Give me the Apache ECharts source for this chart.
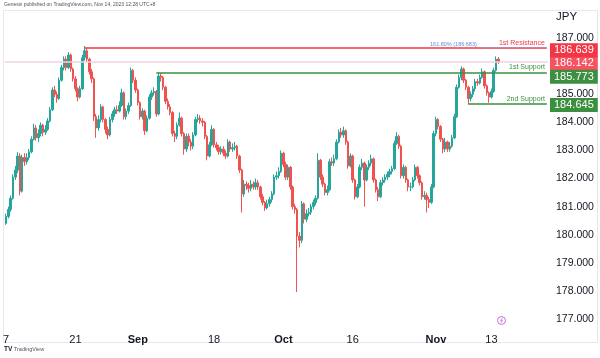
<!DOCTYPE html>
<html><head><meta charset="utf-8">
<script src="https://cdn.jsdelivr.net/npm/echarts@6/dist/echarts.min.js"></script>
<style>html,body{margin:0;padding:0;background:#fff}#c{width:600px;height:358px}</style>
</head><body><div id="c"></div>
<script>
// ---- data (GBP/JPY, 8-hour candles) ----
const firstOpen = 180.40;
const closes = [
180.65,180.90,181.30,182.05,182.30,182.80,181.55,182.75,182.60,182.75,
182.95,183.40,183.80,183.45,183.60,183.90,183.65,183.75,184.05,184.45,
185.15,185.00,184.85,185.50,185.95,186.25,185.95,186.40,185.90,185.55,
185.20,184.90,185.20,186.30,186.55,186.25,185.80,185.55,184.20,183.80,
184.10,184.55,184.10,183.75,183.55,184.10,184.30,184.45,184.40,184.60,
185.05,184.20,184.40,184.60,185.85,185.50,185.15,184.70,184.20,184.40,
183.70,184.15,184.90,185.05,185.10,184.30,185.65,185.60,185.25,184.75,
184.55,184.35,183.60,183.50,183.90,184.15,183.60,183.05,183.50,183.30,
183.15,183.55,184.10,184.15,184.05,184.00,183.50,182.80,183.20,183.75,
183.20,183.10,182.95,183.05,182.90,182.80,183.30,183.05,183.10,183.15,
182.80,182.30,181.45,181.80,181.75,181.65,181.80,181.70,181.85,181.70,
181.35,181.15,180.95,181.10,181.25,181.45,182.05,182.10,182.25,182.90,
182.50,182.05,182.40,181.70,181.00,180.90,179.95,179.80,181.10,180.55,
180.75,180.80,181.00,181.15,181.30,182.65,182.05,181.80,181.50,181.60,
182.60,182.55,182.70,183.30,183.65,183.55,183.70,183.30,182.45,182.80,
181.95,181.35,181.70,182.40,182.55,181.95,182.40,182.55,182.70,181.95,
181.60,181.35,181.85,181.95,182.05,182.15,182.25,182.35,183.25,183.50,
183.15,182.10,182.40,181.95,181.70,181.70,181.95,182.40,182.10,181.85,
181.35,181.40,181.25,181.15,181.70,183.60,184.10,183.85,183.40,183.05,
183.30,183.05,183.15,183.45,184.20,185.25,185.60,185.90,185.50,185.25,
184.85,185.00,185.20,185.45,185.40,185.60,185.80,185.30,185.05,184.90,
185.10,185.85,186.25,186.142];
const highs = [
180.75,181.00,181.40,182.15,182.45,182.95,182.90,182.85,182.90,182.90,
183.05,183.50,183.95,183.90,183.75,184.00,183.95,183.90,184.15,184.55,
185.25,185.30,185.10,185.60,186.05,186.35,186.35,186.50,186.45,185.95,
185.65,185.25,185.30,186.40,186.72,186.65,186.30,185.90,185.60,184.30,
184.25,184.65,184.60,184.15,183.85,184.20,184.40,184.55,184.60,184.75,
185.20,185.10,184.50,184.70,185.95,185.90,185.60,185.20,184.75,184.50,
184.45,184.25,185.00,185.15,185.25,185.15,185.773,185.75,185.65,185.30,
184.85,184.65,184.40,183.70,184.00,184.35,184.20,183.65,183.60,183.60,
183.40,183.65,184.20,184.30,184.25,184.15,184.05,183.55,183.30,183.90,
183.80,183.30,183.20,183.15,183.15,183.00,183.40,183.35,183.25,183.30,
183.20,182.85,182.35,181.95,181.90,181.85,181.95,181.90,182.00,181.95,
181.75,181.45,181.20,181.25,181.35,181.55,182.15,182.25,182.40,183.00,
182.95,182.60,182.50,182.45,181.75,181.10,180.95,180.10,181.20,181.15,
180.90,180.95,181.10,181.25,181.40,182.90,182.70,182.15,181.85,181.75,
182.70,182.75,182.85,183.40,183.75,183.80,183.85,183.75,183.35,182.90,
182.85,182.00,181.80,182.50,182.70,182.60,182.50,182.65,182.85,182.75,
182.00,181.70,181.95,182.05,182.15,182.25,182.35,182.45,183.35,183.65,
183.55,183.20,182.50,182.45,182.00,181.85,182.05,182.50,182.45,182.15,
181.90,181.55,181.50,181.35,181.80,183.70,184.20,184.15,183.90,183.45,
183.45,183.35,183.30,183.55,184.30,185.35,185.70,185.99,185.95,185.55,
185.30,185.10,185.30,185.55,185.55,185.70,185.92,185.85,185.35,185.10,
185.20,185.95,186.35,186.32];
const lows = [
180.35,180.58,180.82,181.25,181.95,182.20,181.40,181.50,182.45,182.50,
182.65,182.90,183.35,183.35,183.30,183.50,183.50,183.55,183.70,184.00,
184.40,184.90,184.70,184.80,185.45,185.85,185.85,185.90,185.80,185.45,
185.10,184.75,184.85,185.15,186.20,186.15,185.70,185.40,184.05,183.45,
183.70,184.00,184.00,183.60,183.40,183.50,184.00,184.20,184.30,184.35,
184.55,184.10,184.10,184.30,184.55,185.40,185.05,184.60,184.10,184.10,
183.55,183.65,184.10,184.80,184.95,184.20,184.25,185.45,185.15,184.65,
184.45,184.25,183.50,183.30,183.40,183.85,183.50,182.85,182.95,183.15,
183.00,183.05,183.50,184.00,183.95,183.85,183.40,182.65,182.75,183.15,
183.10,183.00,182.85,182.85,182.80,182.70,182.75,182.95,182.95,183.00,
182.70,182.20,180.79,181.35,181.60,181.50,181.55,181.60,181.60,181.60,
181.25,181.05,180.85,180.90,181.00,181.15,181.40,181.95,182.00,182.20,
182.40,181.95,181.95,181.60,180.90,180.75,177.96,179.55,179.70,180.40,
180.45,180.65,180.70,180.90,181.05,181.25,181.95,181.70,181.40,181.40,
181.55,182.45,182.45,182.65,183.25,183.45,183.45,183.20,182.35,182.40,
181.85,181.25,181.30,181.65,182.30,181.00,181.90,182.30,182.45,181.85,
181.50,181.20,181.30,181.75,181.85,181.95,182.05,182.15,182.30,183.20,
183.05,182.00,182.00,181.85,181.55,181.55,181.65,181.90,182.00,181.75,
181.25,181.25,180.79,180.95,181.10,181.65,183.50,183.75,183.30,182.90,
182.95,182.95,182.95,183.10,183.40,184.15,185.20,185.50,185.40,185.15,
184.645,184.75,184.90,185.10,185.30,185.35,185.55,185.20,184.95,184.70,
184.85,185.05,185.80,186.08];

// axis / time
const startDate = '2023-08-07';
const sessionSlots = ['00:00','08:00','16:00'];
const axisSlotCount = 235;
const tickDates = ['2023-08-07','2023-08-21','2023-09-01','2023-09-18','2023-10-02','2023-10-16','2023-11-01','2023-11-13'];
const tickTexts = ['7','21','Sep','18','Oct','16','Nov','13'];
const yTickHidden = [186, 188];

// levels
const levelNames = ['1st Resistance','1st Support','2nd Support'];
const levelValues = [186.639, 185.773, 184.645];
const levelStart = ['2023-08-22 08:00','2023-09-05 16:00','2023-11-07 16:00'];
const levelColors = ['#f23645','#3b8f3e','#3b8f3e'];
const lastPrice = 186.142;
const fibValue = 186.683;
const fibText = '161.80% (186.683)';
const fibStart = '2023-11-09 08:00';

// ---- build ----
const categories = [];
(function(){
  const p = startDate.split('-').map(Number);
  let t = Date.UTC(p[0], p[1]-1, p[2]);
  while (categories.length < axisSlotCount) {
    const d = new Date(t);
    const wd = d.getUTCDay();
    if (wd !== 0 && wd !== 6) {
      const ds = d.toISOString().slice(0,10);
      for (const s of sessionSlots) { if (categories.length < axisSlotCount) categories.push(ds + ' ' + s); }
    }
    t += 86400000;
  }
})();
const tickMap = {};
tickDates.forEach((d,i)=>{ tickMap[d + ' ' + sessionSlots[0]] = tickTexts[i]; });
const monthTicks = ['Sep','Oct','Nov','Jan','Feb','Mar','Apr','May','Jun','Jul','Aug','Dec'];
const candles = closes.map((c,i)=>[i ? closes[i-1] : firstOpen, c, lows[i], highs[i]]);
const lastCat = categories[categories.length-1];

const FONT = 'Liberation Sans, Arial, sans-serif';
const boxLabel = (text, bg, dy) => ({
  show:true, position:'end', distance:2, formatter:text, color:'#fff', backgroundColor:bg,
  padding:[1,4,1,4], fontSize:11, lineHeight:12, fontFamily:FONT, offset:[0,dy], opacity:1
});
const boxOffsets = [2, 4, 1];
const mlData = [];
mlData.push({yAxis:lastPrice, lineStyle:{color:'#f0d3e2', width:1.5, type:'solid'},
  label: boxLabel(lastPrice.toFixed(3), '#f7525f', 1)});
levelValues.forEach((v,k)=>{
  mlData.push([
    {coord:[levelStart[k], v], lineStyle:{color:levelColors[k], width:1.5, type:'solid'},
     label:{show:true, position:'insideEndTop', formatter:levelNames[k], color:levelColors[k], fontSize:7, distance:2, fontFamily:FONT}},
    {coord:[lastCat, v]}
  ]);
});
mlData.push([
  {coord:[fibStart, fibValue], lineStyle:{color:'#7fa7e6', width:1, type:'dotted'},
   label:{show:true, position:'start', formatter:fibText, color:'#5b8fd6', fontSize:5.5, distance:3, offset:[0,-3]}},
  {coord:[lastCat, fibValue]}
]);
levelValues.forEach((v,k)=>{
  mlData.push({yAxis:v, lineStyle:{color:'rgba(255,255,255,0)', width:0.1, type:'solid'},
    label: boxLabel(v.toFixed(3), k===0 ? '#f23645' : '#3b8f3e', boxOffsets[k])});
});

const chart = echarts.init(document.getElementById('c'), null, {renderer:'canvas'});
chart.setOption({
  animation:false,
  backgroundColor:'#ffffff',
  grid:{left:2, right:52, top:10, bottom:32},
  xAxis:{
    type:'category', data:categories, boundaryGap:true,
    axisLine:{show:false}, axisTick:{show:false}, splitLine:{show:false},
    axisLabel:{
      margin:8, fontSize:11, color:'#131722', fontFamily:FONT,
      interval:(idx, val)=> tickMap[val] !== undefined,
      formatter:(val)=>{ const t = tickMap[val]; if (t===undefined) return ''; return monthTicks.indexOf(t)>=0 ? '{b|'+t+'}' : t; },
      rich:{b:{fontWeight:'bold', fontSize:11, color:'#131722'}}
    }
  },
  yAxis:{
    type:'value', position:'right', min:176.75, max:188, interval:0.25, scale:true,
    splitLine:{show:false}, axisLine:{show:false}, axisTick:{show:false},
    axisLabel:{margin:8, fontSize:10.5, color:'#131722', fontFamily:FONT,
      formatter:(v)=>{ const r = Math.round(v); return (Math.abs(v-r)<1e-6 && yTickHidden.indexOf(r)<0) ? v.toFixed(3) : ''; }}
  },
  series:[{
    type:'candlestick', data:candles, barWidth:2, barMinWidth:2,
    itemStyle:{color:'#26a69a', color0:'#ef5350', borderColor:'#26a69a', borderColor0:'#ef5350', borderWidth:1},
    markLine:{silent:true, symbol:['none','none'], animation:false, data:mlData}
  }],
  graphic:[
    {type:'rect', shape:{x:3.5, y:10.5, width:594, height:332}, style:{fill:'none', stroke:'#e6e8ee', lineWidth:1}, silent:true, z:-1},
    {type:'text', left:4, top:2, style:{text:'Genesiv published on TradingView.com, Nov 14, 2023 12:28 UTC+8', fontSize:5, fill:'#50535e', fontFamily:FONT}},
    {type:'text', left:556, top:11, style:{text:'JPY', fontSize:11.5, fill:'#131722', fontFamily:FONT}},
    {type:'text', left:4, top:346, style:{text:'{t|TV} TradingView', rich:{t:{fontWeight:'bold', fontSize:6.5, fill:'#131722'}}, fontSize:5.5, fill:'#50535e', fontFamily:FONT}},
    {type:'group', left:495, top:314, children:[
      {type:'circle', shape:{cx:4.5, cy:4.5, r:4}, style:{fill:'none', stroke:'#c36fd8', lineWidth:1}},
      {type:'polyline', shape:{points:[[5.3,2],[3.5,4.8],[5.5,4.4],[3.8,7]]}, style:{fill:'none', stroke:'#c36fd8', lineWidth:0.8}}
    ]}
  ]
});
</script></body></html>
